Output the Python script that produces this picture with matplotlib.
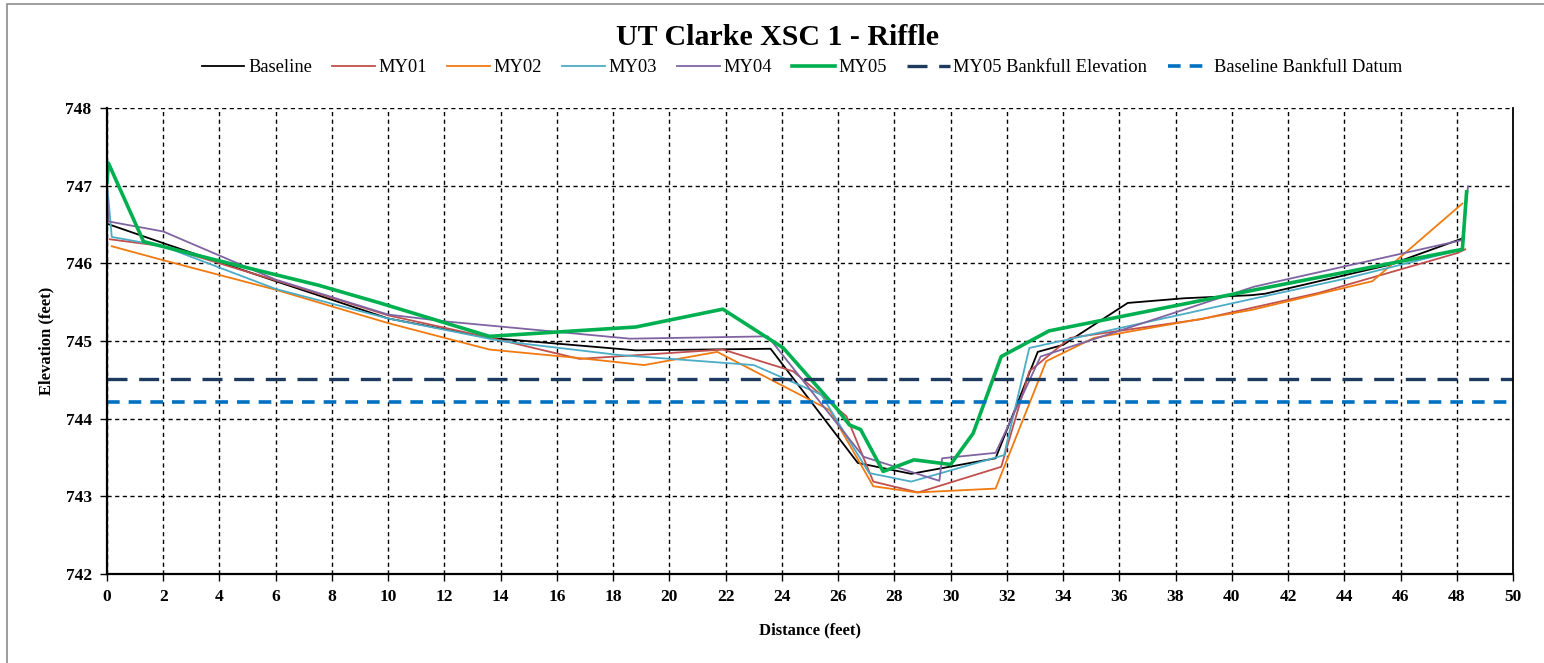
import matplotlib.pyplot as plt
from matplotlib.patches import Rectangle

# cross-section survey data (distance ft, elevation ft)
base_x = [0, 2, 6, 10, 13.6, 18.8, 23.6, 26.7, 28.6, 31.6, 33.1, 34.0, 36.3, 38.3, 40.7, 41.2, 45.6, 48.2]
base_y = [746.51, 746.26, 745.77, 745.29, 745.04, 744.88, 744.90, 743.43, 743.29, 743.49, 744.86, 744.95, 745.49, 745.55, 745.59, 745.61, 745.98, 746.32]

my01_x = [0.1, 2, 6, 10, 13.9, 16.8, 21.9, 24.4, 26.3, 27.25, 28.85, 31.8, 32.8, 34.25, 38.9, 43.1, 48.0, 48.3]
my01_y = [746.31, 746.22, 745.78, 745.33, 745.02, 744.77, 744.89, 744.61, 744.03, 743.19, 743.05, 743.38, 744.61, 745.04, 745.28, 745.62, 746.13, 746.18]

my02_x = [0.17, 2, 6, 10, 13.6, 16.8, 19.1, 21.7, 25.7, 27.25, 28.8, 31.6, 33.4, 35.1, 40.7, 45.0, 48.2]
my02_y = [746.22, 746.04, 745.66, 745.23, 744.89, 744.78, 744.69, 744.86, 744.11, 743.13, 743.05, 743.10, 744.74, 745.04, 745.40, 745.77, 746.77]

my03_x = [0, 0.17, 2, 6, 10, 14, 18.2, 23.0, 25.4, 27.1, 28.6, 31.9, 32.8, 40.7, 44.0, 48.2]
my03_y = [747.03, 746.34, 746.22, 745.67, 745.29, 745.00, 744.82, 744.69, 744.31, 743.30, 743.19, 743.53, 744.91, 745.54, 745.80, 746.18]

my04_x = [0, 0.05, 2, 6, 10, 12.1, 18.6, 23.5, 26.9, 29.6, 29.7, 31.6, 33.2, 40.8, 48.2, 48.4]
my04_y = [747.00, 746.54, 746.41, 745.79, 745.34, 745.25, 745.03, 745.06, 743.51, 743.20, 743.49, 743.56, 744.80, 745.70, 746.30, 746.99]

my05_x = [0, 0.05, 1.3, 3.9, 7.5, 9.7, 13.6, 18.8, 21.9, 24.05, 25.95, 26.4, 26.8, 27.6, 28.7, 30.0, 30.8, 31.8, 33.5, 40.7, 48.2, 48.35]
my05_y = [747.05, 747.29, 746.28, 746.04, 745.72, 745.49, 745.06, 745.18, 745.41, 744.91, 744.13, 743.92, 743.86, 743.32, 743.47, 743.41, 743.81, 744.80, 745.13, 745.65, 746.18, 746.92]

bkf_my05 = 744.51
bkf_base = 744.21

plt.rcParams['font.family'] = ['Liberation Serif', 'DejaVu Serif']

fig = plt.figure(figsize=(15.44, 6.63), dpi=100)
ax = fig.add_axes([107 / 1544, 1 - 574 / 663, (1513 - 107) / 1544, (574 - 108) / 663])

# outer chart-area border (only left/top visible in the original)
fig.patches.append(Rectangle((7 / 1544, -0.2), 1.2, 1.2 - 4 / 663, transform=fig.transFigure,
                             fill=False, edgecolor='#8c8c8c', linewidth=1.2))

ax.plot(base_x, base_y, color='black', lw=1.3, label='Baseline')
ax.plot(my01_x, my01_y, color='#C0504D', lw=1.3, label='MY01')
ax.plot(my02_x, my02_y, color='#F07A10', lw=1.3, label='MY02')
ax.plot(my03_x, my03_y, color='#4BACC6', lw=1.3, label='MY03')
ax.plot(my04_x, my04_y, color='#8064A2', lw=1.3, label='MY04')
ax.plot(my05_x, my05_y, color='#00B050', lw=2.6, label='MY05')
ax.axhline(bkf_my05, color='#1F3A5F', lw=2.4, dashes=(6, 3.5), label='MY05 Bankfull Elevation')
ax.axhline(bkf_base, color='#0070C0', lw=2.6, dashes=(3.5, 2.5), label='Baseline Bankfull Datum')

ax.set_xlim(0, 50)
ax.set_ylim(742, 748)
ax.set_xticks(range(0, 51, 2))
ax.set_yticks(range(742, 749))
ax.grid(True, color='black', linestyle=(0, (3, 2.5)), linewidth=1.0)
ax.set_axisbelow(True)

for side in ['left', 'bottom']:
    ax.spines[side].set_linewidth(1.6)
ax.spines['right'].set_linewidth(1.3)
ax.spines['top'].set_visible(False)

ax.tick_params(axis='both', direction='out', length=5, width=1, labelsize=12.5, pad=6)
for lbl in ax.get_xticklabels() + ax.get_yticklabels():
    lbl.set_fontweight('bold')

ax.set_xlabel('Distance (feet)', fontsize=12, fontweight='bold', labelpad=12)
ax.set_ylabel('Elevation (feet)', fontsize=12, fontweight='bold', labelpad=8)

fig.text(777 / 1544, 1 - 45 / 663, 'UT Clarke XSC 1 - Riffle', ha='center', va='baseline',
         fontsize=21.5, fontweight='bold')

fig.legend(loc='center', bbox_to_anchor=(802 / 1544, 1 - 68 / 663), ncol=8, frameon=False,
           fontsize=13.3, handlelength=2.3, handletextpad=0.2, columnspacing=1.1)

fig.savefig('out.png', dpi=100)
